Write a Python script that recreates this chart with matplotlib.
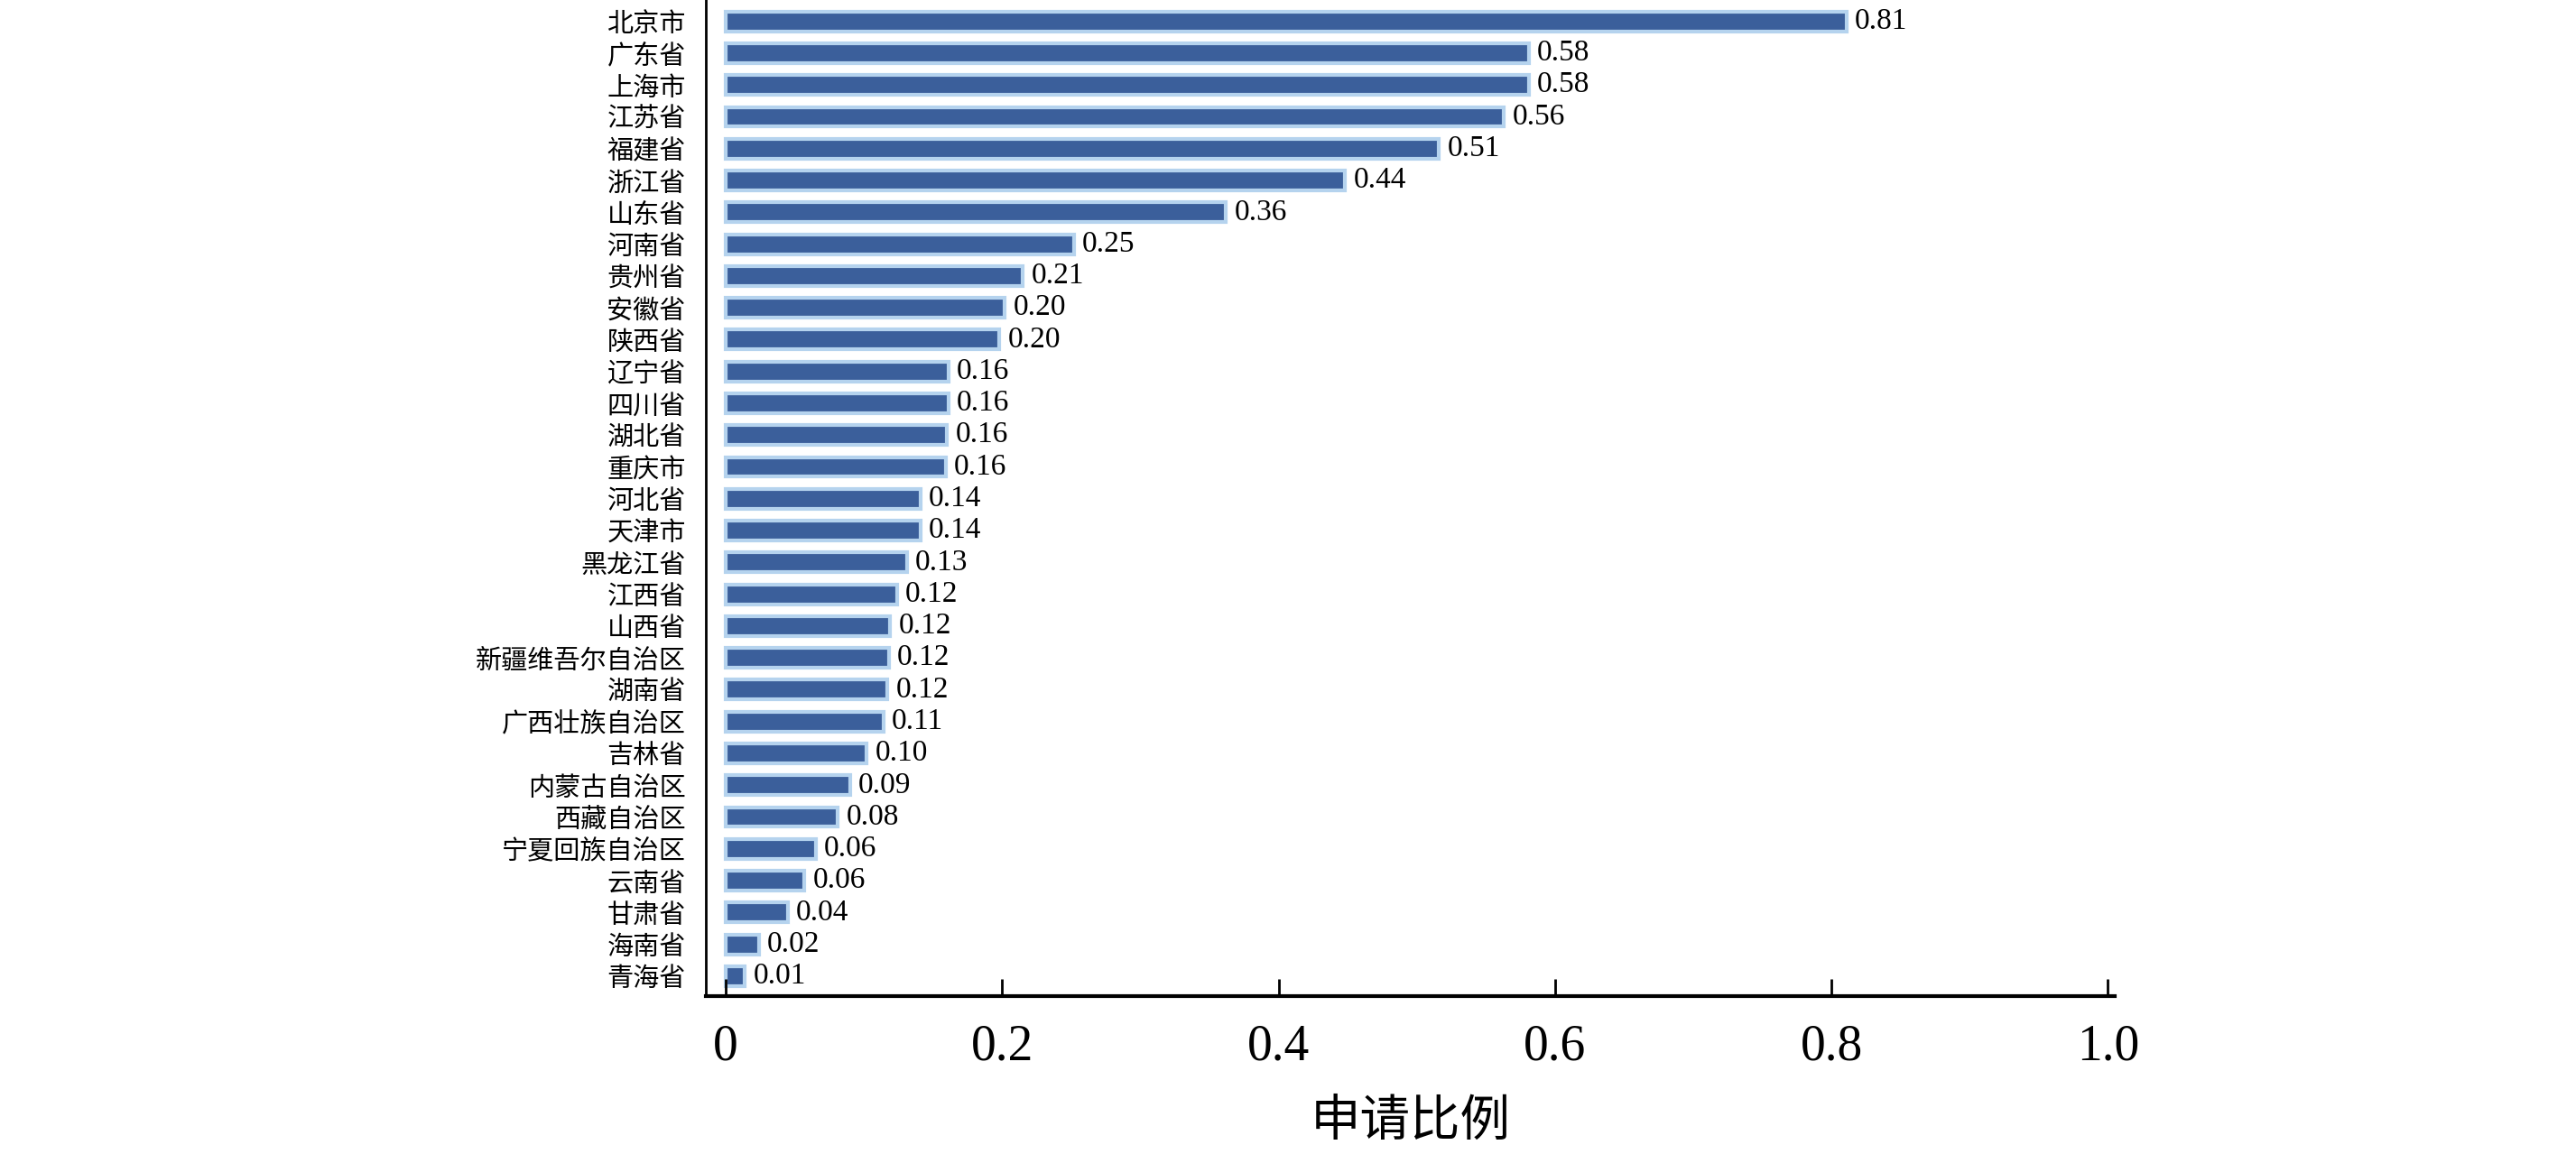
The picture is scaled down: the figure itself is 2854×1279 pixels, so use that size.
import matplotlib
matplotlib.use('Agg')
import matplotlib.pyplot as plt

provinces = ['北京市', '广东省', '上海市', '江苏省', '福建省', '浙江省', '山东省', '河南省',
             '贵州省', '安徽省', '陕西省', '辽宁省', '四川省', '湖北省', '重庆市', '河北省',
             '天津市', '黑龙江省', '江西省', '山西省', '新疆维吾尔自治区', '湖南省',
             '广西壮族自治区', '吉林省', '内蒙古自治区', '西藏自治区', '宁夏回族自治区',
             '云南省', '甘肃省', '海南省', '青海省']
values = [0.81, 0.58, 0.58, 0.56, 0.51, 0.44, 0.36, 0.25, 0.21, 0.20, 0.20, 0.16, 0.16,
          0.16, 0.16, 0.14, 0.14, 0.13, 0.12, 0.12, 0.12, 0.12, 0.11, 0.10, 0.09, 0.08,
          0.06, 0.06, 0.04, 0.02, 0.01]
# lengths as drawn (slightly differ from rounded labels)
lengths = [0.811, 0.581, 0.581, 0.563, 0.516, 0.448, 0.362, 0.252, 0.215, 0.202, 0.198,
           0.161, 0.161, 0.160, 0.159, 0.141, 0.141, 0.131, 0.124, 0.119, 0.118, 0.117,
           0.114, 0.102, 0.090, 0.081, 0.065, 0.057, 0.045, 0.024, 0.014]
xticks = [0, 0.2, 0.4, 0.6, 0.8, 1.0]
xtick_labels = ['0', '0.2', '0.4', '0.6', '0.8', '1.0']

cjk = ['Noto Sans CJK SC', 'DejaVu Sans']
serif = ['Liberation Serif', 'DejaVu Serif']

fig = plt.figure(figsize=(28.54, 12.79), dpi=100)
ax = fig.add_axes([0.274, 0.137, 0.547, 0.863])

y = list(range(len(provinces)))
ax.barh(y, lengths, height=0.62, color='#3b5f9b', edgecolor='#b5d3ee', linewidth=3)
for yi, v, ln in zip(y, values, lengths):
    ax.text(ln + 0.006, yi, f'{v:.2f}', va='center', ha='left', fontsize=24, family=serif)

ax.set_ylim(30.62, -0.67)
ax.set_xlim(-0.0144, 1.005)
ax.set_yticks(y)
ax.set_yticklabels(provinces, family=cjk, fontsize=21)
ax.tick_params(axis='y', length=0, pad=16)
ax.set_xticks(xticks)
ax.set_xticklabels(xtick_labels, family=serif, fontsize=40)
ax.tick_params(axis='x', direction='in', length=14, width=2, pad=22)
for s in ['top', 'right']:
    ax.spines[s].set_visible(False)
ax.spines['left'].set_linewidth(2)
ax.spines['bottom'].set_linewidth(3)
ax.set_xlabel('申请比例', family=cjk, fontsize=40, labelpad=20)

fig.savefig('out.png', dpi=100)
